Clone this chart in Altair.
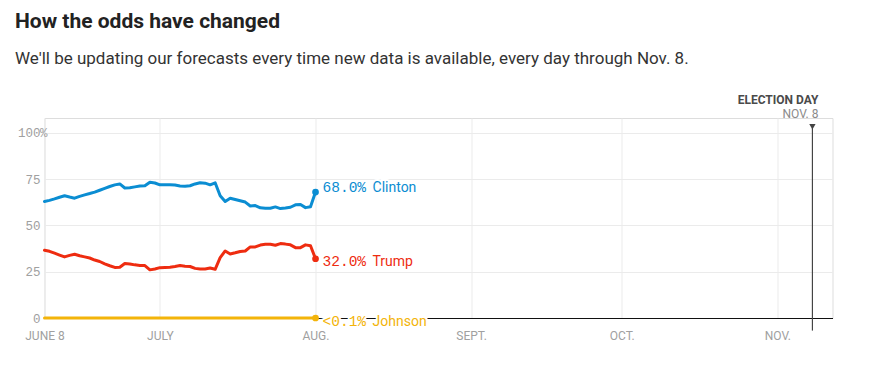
import altair as alt
import pandas as pd

# ---------------- data ----------------
start_date = "2016-06-08"
n_days = 55  # June 8 .. Aug 1

clinton = [62.9, 63.5, 64.3, 65.2, 66.0, 65.3, 64.7, 65.7, 66.5, 67.2,
           68.0, 69.0, 70.0, 71.0, 71.9, 72.4, 70.2, 70.3, 70.8, 71.3,
           71.4, 73.3, 72.9, 71.9, 72.0, 72.0, 71.8, 71.3, 71.2, 71.4,
           72.4, 73.0, 72.8, 71.9, 73.0, 66.0, 62.9, 64.7, 64.0, 63.3,
           62.6, 60.5, 60.7, 59.5, 59.3, 59.3, 60.0, 59.1, 59.4, 59.8,
           61.1, 61.3, 59.6, 60.1, 68.0]
trump = [36.6, 36.0, 35.0, 34.0, 33.0, 33.8, 34.4, 33.6, 33.0, 32.4,
         31.3, 30.5, 29.2, 28.2, 27.3, 27.4, 29.4, 29.2, 28.7, 28.4,
         28.3, 26.0, 26.5, 27.2, 27.3, 27.4, 27.8, 28.3, 28.0, 27.8,
         26.8, 26.5, 26.5, 27.0, 26.3, 32.6, 36.2, 34.6, 35.2, 35.9,
         36.2, 38.4, 38.4, 39.4, 39.8, 39.8, 39.3, 40.2, 39.9, 39.5,
         38.0, 38.0, 39.5, 39.0, 32.0]
johnson = [0.05] * n_days

candidates = ["Clinton", "Trump", "Johnson"]
colors = ["#0b8dd2", "#ee2c10", "#f3b40a"]
end_labels = ["68.0%", "32.0%", "<0.1%"]

y_ticks = [0, 25, 50, 75, 100]
election_day = "2016-11-08"
# ---------------------------------------

dates = pd.date_range(start_date, periods=n_days)
rows = []
for name, series in zip(candidates, [clinton, trump, johnson]):
    for d, v in zip(dates, series):
        rows.append({"date": d, "candidate": name, "value": v})
df = pd.DataFrame(rows)

last = df[df["date"] == dates[-1]].copy()
last["num"] = end_labels
last["shown"] = [clinton[-1], trump[-1], 0.0]

color = alt.Color("candidate:N", scale=alt.Scale(domain=candidates, range=colors), legend=None)

x_scale = alt.Scale(domain=[alt.DateTime(year=2016, month=6, date=8),
                            alt.DateTime(year=2016, month=11, date=12)])
y_scale = alt.Scale(domain=[0, 108], nice=False)

x_axis = alt.Axis(
    values=[alt.DateTime(year=2016, month=6, date=8),
            alt.DateTime(year=2016, month=7, date=1),
            alt.DateTime(year=2016, month=8, date=1),
            alt.DateTime(year=2016, month=9, date=1),
            alt.DateTime(year=2016, month=10, date=1),
            alt.DateTime(year=2016, month=11, date=1)],
    labelExpr="['JAN.','FEB.','MAR.','APR.','MAY','JUNE 8','JULY','AUG.','SEPT.','OCT.','NOV.','DEC.'][month(datum.value)]",
    title=None, ticks=False, labelPadding=12, labelColor="#a0a0a0", labelFlush=False,
    labelFont="Roboto", labelFontSize=12, grid=True, gridColor="#ebebeb",
    domain=True, domainColor="#111111", domainWidth=1,
)
y_axis = alt.Axis(
    values=y_ticks,
    title=None, ticks=False, labelPadding=4.5, labelColor="#a0a0a0",
    labelFont="Liberation Mono", labelFontSize=12.5, grid=True, gridColor="#ebebeb",
    domain=False,
)

base = alt.Chart(df)
lines = base.mark_line(strokeWidth=3, strokeCap="round", strokeJoin="round").encode(
    x=alt.X("date:T", scale=x_scale, axis=x_axis),
    y=alt.Y("value:Q", scale=y_scale, axis=y_axis),
    color=color,
    detail="candidate:N",
)

# "%" suffix on the 100 tick label
pct = pd.DataFrame({"date": [dates[0]], "v": [y_ticks[-1]], "t": ["%"]})
pct_mark = alt.Chart(pct).mark_text(align="left", baseline="middle", dx=-4.5, font="Liberation Mono",
                                    fontSize=12.5, color="#a0a0a0").encode(x="date:T", y="v:Q", text="t:N")

pts = alt.Chart(last).mark_circle(size=45, opacity=1).encode(
    x="date:T", y="shown:Q", color=color
)

label_layers = []
for name, dy in zip(candidates, [-4, 3.5, 4]):
    sub = alt.Chart(last).transform_filter(alt.datum.candidate == name)
    enc = dict(x="date:T", y="shown:Q")
    halo_num = sub.mark_text(align="left", baseline="middle", dx=7, dy=dy, font="Liberation Mono",
                             fontSize=14.5, stroke="white", strokeWidth=4, fill="white").encode(text="num:N", **enc)
    halo_name = sub.mark_text(align="left", baseline="middle", dx=57, dy=dy, font="Roboto",
                              fontSize=14, stroke="white", strokeWidth=4, fill="white").encode(text="candidate:N", **enc)
    num = sub.mark_text(align="left", baseline="middle", dx=7, dy=dy, font="Liberation Mono",
                        fontSize=14.5).encode(text="num:N", color=color, **enc)
    nm = sub.mark_text(align="left", baseline="middle", dx=57, dy=dy, font="Roboto",
                       fontSize=14).encode(text="candidate:N", color=color, **enc)
    label_layers += [halo_num, halo_name, num, nm]

ed = pd.DataFrame({"date": [pd.Timestamp(election_day)], "top": [103.0], "bottom": [-6.8],
                   "tri": [103.3], "t1": [117.7], "t2": [110.0],
                   "label1": ["ELECTION DAY"], "label2": ["NOV. 8"]})
ed_base = alt.Chart(ed)
ed_rule = ed_base.mark_rule(color="#444444", strokeWidth=1.2).encode(x="date:T", y="top:Q", y2="bottom:Q")
ed_tri = ed_base.mark_point(shape="triangle-down", filled=True, size=40, color="#444444", opacity=1).encode(
    x="date:T", y="tri:Q")
ed_t1 = ed_base.mark_text(align="right", baseline="middle", dx=6, font="Roboto", fontSize=12,
                          fontWeight="bold", color="#4a4a4a").encode(x="date:T", y="t1:Q", text="label1:N")
ed_t2 = ed_base.mark_text(align="right", baseline="middle", dx=6, font="Roboto", fontSize=12,
                          color="#8a8a8a").encode(x="date:T", y="t2:Q", text="label2:N")

chart = alt.layer(lines, pct_mark, *label_layers, pts, ed_rule, ed_tri, ed_t1, ed_t2).properties(
    width=788, height=200,
    autosize=alt.AutoSizeParams(type="none"),
    padding={"left": 36.5, "top": 110, "right": 30, "bottom": 40},
    title=alt.TitleParams(
        text="How the odds have changed",
        subtitle="We'll be updating our forecasts every time new data is available, every day through Nov. 8.",
        anchor="start", frame="group", dx=-29.5, offset=27,
        font="Roboto", fontSize=21, fontWeight="bold", color="#222222",
        subtitleFont="Roboto", subtitleFontSize=17, subtitleColor="#333333", subtitlePadding=19.5,
    ),
).configure_view(stroke=None).configure(background="white")

chart.save("out.html", embed_options={"renderer": "svg", "actions": False})
